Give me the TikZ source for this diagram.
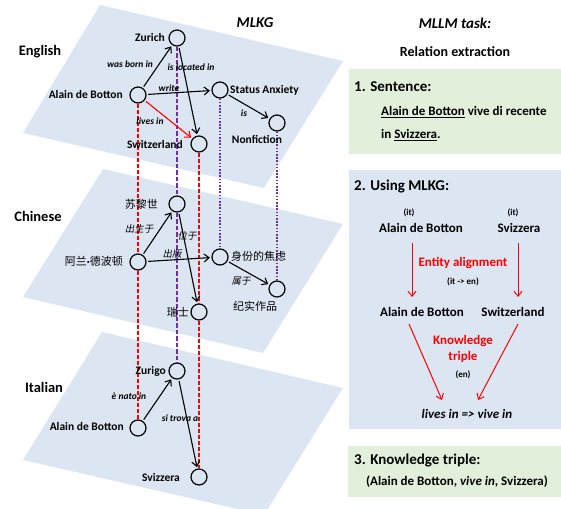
\documentclass[tikz,border=0pt]{standalone}
\usepackage{fontspec}
\setmainfont{Carlito}
\newfontfamily\cjk{Noto Sans CJK SC}
\newfontfamily\cjkit[FakeSlant=0.2]{Noto Sans CJK SC}
\usetikzlibrary{arrows.meta}
\definecolor{planeblue}{HTML}{DCE6F2}
\definecolor{boxgreen}{HTML}{E2EFDA}
\definecolor{kgpurple}{HTML}{7030A0}
\definecolor{kgred}{HTML}{FF0000}
\begin{document}
\begin{tikzpicture}[x=1pt,y=-1pt,
  ent/.style={circle,draw=black,line width=1.2pt,minimum size=16pt,inner sep=0pt},
  lab/.style={font=\fontsize{11.5}{13}\selectfont\bfseries,inner sep=1pt},
  rel/.style={font=\fontsize{9.5}{11}\selectfont\bfseries\itshape,inner sep=1pt},
  cjklab/.style={font=\fontsize{11}{13}\selectfont\cjk,inner sep=1pt},
  cjkrel/.style={font=\fontsize{9.5}{11}\selectfont\cjkit,inner sep=1pt},
  lang/.style={font=\fontsize{14.5}{16}\selectfont\bfseries,inner sep=1pt},
  head/.style={font=\fontsize{15}{17}\selectfont\bfseries,inner sep=1pt},
  txt/.style={font=\fontsize{13}{15}\selectfont\bfseries,inner sep=1pt},
  small/.style={font=\fontsize{9}{11}\selectfont\bfseries,inner sep=1pt},
  redtxt/.style={font=\fontsize{13}{15}\selectfont\bfseries,text=kgred,inner sep=1pt},
  kgarrow/.style={-{Straight Barb[length=5pt,width=8pt]},line width=1.1pt,shorten >=1.5pt,shorten <=1.5pt},
  redarrow/.style={-{Straight Barb[length=5pt,width=8pt]},line width=1pt,draw=kgred},
  reddash/.style={draw=kgred,line width=1.3pt,dash pattern=on 4pt off 2pt},
  purpdash/.style={draw=kgpurple,line width=1.3pt,dash pattern=on 4.5pt off 2pt},
  purpdot/.style={draw=kgpurple,line width=1.6pt,dash pattern=on 1.6pt off 1.6pt}
]
\useasboundingbox (0,0) rectangle (561,508);
\clip (0,0) rectangle (561,508);
% planes
\fill[planeblue] (100,5) -- (343,61) -- (264,188) -- (23,133) -- cycle;
\fill[planeblue] (103,169) -- (343,224) -- (263,353) -- (23,297) -- cycle;
\fill[planeblue] (102,332) -- (343,388) -- (264,515) -- (23,460) -- cycle;
% boxes
\fill[boxgreen] (349,69) rectangle (561,154);
\fill[planeblue] (349,170) rectangle (561,429);
\fill[boxgreen] (348,446) rectangle (561,497);

% language titles
\node[lang] (en) at (40,52) {English};
\node[lang] (zh) at (38,216) {Chinese};
\node[lang] (it) at (44,387) {Italian};
\node[head] (mlkg) at (255,23) {\itshape MLKG};
\node[head] (mllm) at (455,23) {\itshape MLLM task:};
\node[txt,font=\fontsize{14}{16}\selectfont\bfseries] (rex) at (455,52) {Relation extraction};

% entity nodes
\node[ent] (zu) at (177,38) {};
\node[ent] (adb) at (138,95) {};
\node[ent] (sa) at (220,90) {};
\node[ent] (sw) at (199,144) {};
\node[ent] (nf) at (277,123) {};
\node[ent] (zuc) at (177,204) {};
\node[ent] (adbc) at (138,262) {};
\node[ent] (sac) at (220,257) {};
\node[ent] (swc) at (199,312) {};
\node[ent] (nfc) at (277,289) {};
\node[ent] (zui) at (177,371) {};
\node[ent] (adbi) at (138,428) {};
\node[ent] (swi) at (199,477) {};

% vertical alignment lines
\draw[reddash] (adb) -- (adbc);
\draw[reddash] (adbc) -- (adbi);
\draw[purpdash] (zu) -- (zuc);
\draw[purpdash] (zuc) -- (zui);
\draw[reddash] (sw) -- (swc);
\draw[reddash] (swc) -- (swi);
\draw[purpdot] (sa) -- (sac);
\draw[purpdot] (nf) -- (nfc);

% entity labels
\node[lab,anchor=east] (zuL) at (166,38) {Zurich};
\node[lab,anchor=east] (adbL) at (124,95) {Alain de Botton};
\node[lab,anchor=west] (saL) at (229,90) {Status Anxiety};
\node[lab,anchor=east] (swL) at (184,145) {Switzerland};
\node[lab] (nfL) at (257,139) {Nonfiction};
\node[cjklab,anchor=east] (zucL) at (159,204) {苏黎世};
\node[cjklab,anchor=east] (adbcL) at (124,261) {阿兰{\rmfamily\bfseries ·}德波顿};
\node[cjklab,anchor=west] (sacL) at (230,256) {身份的焦虑};
\node[cjklab,anchor=east] (swcL) at (190,312) {瑞士};
\node[cjklab] (nfcL) at (255,306) {纪实作品};
\node[lab,anchor=east] (zuiL) at (167,371) {Zurigo};
\node[lab,anchor=east] (adbiL) at (125,427) {Alain de Botton};
\node[lab,anchor=east] (swiL) at (181,477) {Svizzera};

% relations
\draw[kgarrow] (adb) -- (zu);
\draw[kgarrow] (zu) -- (sw);
\draw[kgarrow] (adb) -- (sa);
\draw[kgarrow,draw=kgred] (adb) -- (sw);
\draw[kgarrow] (sa) -- (nf);
\draw[kgarrow] (adbc) -- (zuc);
\draw[kgarrow] (zuc) -- (swc);
\draw[kgarrow] (adbc) -- (sac);
\draw[kgarrow] (sac) -- (nfc);
\draw[kgarrow] (adbi) -- (zui);
\draw[kgarrow] (zui) -- (swi);

\node[rel] (r1) at (130,64) {was born in};
\node[rel] (r2) at (191,67) {is located in};
\node[rel] (r3) at (169,88) {write};
\node[rel] (r4) at (150,121) {lives in};
\node[rel] (r5) at (244,113) {is};
\node[cjkrel] (r6) at (139,229) {出生于};
\node[cjkrel] (r7) at (187,236) {位于};
\node[cjkrel] (r8) at (172,254) {出版};
\node[cjkrel] (r9) at (241,281) {属于};
\node[rel] (r10) at (129,396) {è nato in};
\node[rel] (r11) at (180,418) {si trova a};

% box 1
\node[head,anchor=west] (b1h) at (353,87) {1. Sentence:};
\node[txt,anchor=west] (b1a) at (380,112) {\underline{Alain de Botton} vive di recente};
\node[txt,anchor=west] (b1b) at (380,135) {in \underline{Svizzera}.};

% box 2
\node[head,anchor=west] (b2h) at (353,187) {2. Using MLKG:};
\node[small] (it1) at (409,213) {(it)};
\node[small] (it2) at (513,213) {(it)};
\node[txt] (t1) at (421,228) {Alain de Botton};
\node[txt] (t2) at (519,228) {Svizzera};
\node[redtxt] (ea) at (463,263) {Entity alignment};
\node[small] (iten) at (463,282) {(it -> en)};
\node[txt] (m1) at (422,312) {Alain de Botton};
\node[txt] (m2) at (513,312) {Switzerland};
\node[redtxt] (kt1) at (463,341) {Knowledge};
\node[redtxt] (kt2) at (463,357) {triple};
\node[small] (enl) at (463,375) {(en)};
\node[txt] (res) at (467,414) {\itshape lives in => vive in};
\coordinate (a1s) at (412,243);
\coordinate (a1e) at (412,297);
\coordinate (a2s) at (518,243);
\coordinate (a2e) at (518,297);
\coordinate (a3s) at (409,324);
\coordinate (a3e) at (442,400);
\coordinate (a4s) at (518,324);
\coordinate (a4e) at (478,400);
\draw[redarrow] (a1s) -- (a1e);
\draw[redarrow] (a2s) -- (a2e);
\draw[redarrow] (a3s) -- (a3e);
\draw[redarrow] (a4s) -- (a4e);

% box 3
\node[head,anchor=west] (b3h) at (353,461) {3. Knowledge triple:};
\node[txt] (b3t) at (457,482) {(Alain de Botton, \textit{vive in}, Svizzera)};
\end{tikzpicture}
\end{document}
